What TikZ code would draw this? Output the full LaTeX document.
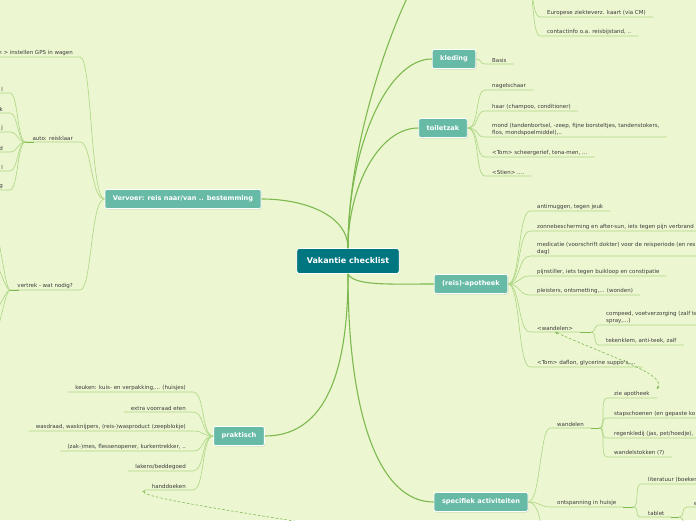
\documentclass[tikz,border=0pt]{standalone}
\usepackage{fontspec}
\setmainfont{DejaVu Sans}
\usetikzlibrary{arrows.meta,shadows}

\definecolor{bg}{RGB}{236,246,208}
\definecolor{rootfill}{RGB}{0,118,128}
\definecolor{topicfill}{RGB}{103,186,166}
\definecolor{mainline}{RGB}{125,185,80}
\definecolor{subline}{RGB}{172,214,132}
\definecolor{itemtext}{RGB}{60,60,60}

\tikzset{
  root/.style={rectangle, rounded corners=2.5pt, fill=rootfill, draw=white, line width=0.8pt,
    text=white, font=\fontsize{8}{9}\selectfont\bfseries, minimum height=25pt, inner xsep=10pt},
  topic/.style={rectangle, rounded corners=2pt, fill=topicfill, draw=white, line width=0.8pt,
    text=white, font=\fontsize{6.6}{8}\selectfont\bfseries, minimum height=19pt, inner xsep=8pt,
    drop shadow={shadow xshift=0.5pt, shadow yshift=-0.8pt, opacity=0.3, fill=black!60}},
  item/.style={font=\fontsize{5.5}{7}\selectfont, text=itemtext, inner xsep=7pt, inner ysep=1.6pt},
  itemr/.style={item, anchor=south west, align=left},
  iteml/.style={item, anchor=south east, align=right},
  main/.style={draw=mainline, line width=1.1pt},
  sub/.style={draw=subline, line width=0.6pt},
  stub/.style={draw=mainline, line width=1pt},
  relation/.style={draw=mainline, line width=0.6pt, dash pattern=on 2.5pt off 2pt,
    >={Stealth[length=3pt,width=3pt]}}
}

\begin{document}
\begin{tikzpicture}[x=1pt, y=-1pt]
    % Canvas
    \fill[bg] (0,0) rectangle (696,520);
    \useasboundingbox (0,0) rectangle (696,520);
    \clip (0,0) rectangle (696,520);

    % Centre and main topics
    \node[root] (root) at (348,261) {Vakantie checklist};
    \node[topic] (vervoer) at (183,199) {Vervoer: reis naar/van .. bestemming};
    \node[topic] (kleding) at (454,59) {kleding};
    \node[topic] (toiletzak) at (443,128) {toiletzak};
    \node[topic] (apotheek) at (471,284) {(reis)-apotheek};
    \node[topic] (praktisch) at (239,436) {praktisch};
    \node[topic] (specifiek) at (481,502) {specifiek activiteiten};
    \coordinate (boven) at (409,-6);

    % Main branches
    \draw[main] (vervoer.east) .. controls +(45,0) and +(0,-32) .. (root.north);
    \draw[main] (root.north) .. controls +(0,-100) and +(-22,45) .. (boven);
    \draw[main] (root.north) .. controls +(0,-100) and +(-45,0) .. (kleding.west);
    \draw[main] (root.north) .. controls +(0,-60) and +(-40,0) .. (toiletzak.west);
    \draw[main] (root.south) .. controls +(6,12) and +(-45,0) .. (apotheek.west);
    \draw[main] (root.south) .. controls +(0,110) and +(55,0) .. (praktisch.east);
    \draw[main] (root.south) .. controls +(0,140) and +(-55,0) .. (specifiek.west);

    % Branch above the picture
    \coordinate (verzek) at (528,-14);
    \node[itemr] (top1) at (540,17) {Europese ziekteverz. kaart (via CM)};
    \node[itemr] (top2) at (540,36) {contactinfo o.a. reisbijstand, ..};
    \foreach \n in {top1,top2}
        \draw[sub] (verzek) .. controls +(6,0) and +(-8,0) .. (\n.south west) -- (\n.south east);

    % kleding
    \node[itemr] (basis) at (485,64) {Basis};
    \draw[sub] (kleding.east) .. controls +(6,0) and +(-6,0) .. (basis.south west) -- (basis.south east);

    % toiletzak
    \foreach \y/\t [count=\i] in {90/nagelschaar, 111/{haar (champoo, conditioner)},
        137/{mond (tandenbortsel, -zeep, fijne borsteltjes, tandenstokers,\\flos, mondspoelmiddel),..},
        157/{<Tom> scheergerief, tena-men, ...}, 176/{<Stien> ....}}
    {
        \node[itemr] (tz\i) at (485,\y) {\t};
        \draw[sub] (toiletzak.east) .. controls +(12,0) and +(-10,0) .. (tz\i.south west) -- (tz\i.south east);
    }

    % (reis)-apotheek
    \foreach \y/\t [count=\i] in {211/{antimuggen, tegen jeuk},
        231/{zonnebescherming en after-sun, iets tegen pijn verbrand},
        256/{medicatie (voorschrift dokter) voor de reisperiode (en res\\dag)},
        276/{pijnstiller, iets tegen buikloop en constipatie},
        295/{pleisters, ontsmetting,... (wonden)}, 332/{<wandelen>},
        367/{<Tom> daflon, glycerine suppo's,...}}
    {
        \node[itemr] (ap\i) at (530,\y) {\t};
        \draw[sub] (apotheek.east) .. controls +(12,0) and +(-12,0) .. (ap\i.south west) -- (ap\i.south east);
    }
    \coordinate (wb) at (591,332);
    \draw[stub] (ap6.south east) -- (wb);
    \node[itemr] (wv1) at (599,325) {compeed, voetverzorging (zalf te\\spray,...)};
    \node[itemr] (wv2) at (599,345) {tekenklem, anti-teek, zalf};
    \foreach \n in {wv1,wv2}
        \draw[sub] (wb) .. controls +(6,0) and +(-6,0) .. (\n.south west) -- (\n.south east);

    % praktisch
    \foreach \y/\t [count=\i] in {392/{keuken: kuis- en verpakking,... (huisjes)},
        412/{extra voorraad eten}, 431/{wasdraad, wasknijpers, (reis-)wasproduct (zeepblokje)},
        451/{(zak-)mes, flessenopener, kurkentrekker, ..}, 471/{lakens/beddegoed}, 490/{handdoeken}}
    {
        \node[iteml] (pr\i) at (193,\y) {\t};
        \draw[sub] (praktisch.west) .. controls +(-12,0) and +(12,0) .. (pr\i.south east) -- (pr\i.south west);
    }

    % Vervoer
    \foreach \y/\t [count=\i] in {57/{n > instellen GPS in wagen}, 142/{auto: reisklaar}, 290/{vertrek - wat nodig?}}
    {
        \node[iteml] (vv\i) at (80,\y) {\t};
        \draw[sub] (vervoer.west) .. controls +(-14,0) and +(12,0) .. (vv\i.south east) -- (vv\i.south west);
    }
    \draw[stub] (vv2.south west) -- +(9,0);
    \foreach \y/\t [count=\i] in {93/l, 113/k, 132/j, 152/d, 171/l, 190/g}
    {
        \node[iteml] (au\i) at (10,\y) {\t};
        \draw[sub] (vv2.south west) .. controls +(-8,0) and +(8,0) .. (au\i.south east) -- (au\i.south west);
    }
    \draw[stub] (vv3.south west) -- +(9,0);
    \coordinate (vt1) at (-8,226);
    \coordinate (vt2) at (-8,262);
    \coordinate (vt3) at (-8,312);
    \coordinate (vt4) at (-8,336);
    \foreach \n in {vt1,vt2,vt3,vt4}
        \draw[sub] (vv3.south west) .. controls +(-6,0) and +(8,0) .. (\n);

    % specifiek activiteiten
    \node[itemr] (sp1) at (550,428) {wandelen};
    \node[itemr] (sp2) at (550,507) {ontspanning in huisje};
    \coordinate (sp3) at (541,530);
    \foreach \n in {sp1,sp2}
        \draw[sub] (specifiek.east) .. controls +(12,0) and +(-10,0) .. (\n.south west) -- (\n.south east);
    \draw[sub] (specifiek.east) .. controls +(8,0) and +(0,-12) .. (sp3);

    \coordinate (wd) at (599,428);
    \draw[stub] (sp1.south east) -- (wd);
    \foreach \y/\t [count=\i] in {398/{zie apotheek}, 418/{stapschoenen (en gepaste ko},
        438/{regenkledij (jas, pet/hoedje),}, 457/{wandelstokken (?)}}
    {
        \node[itemr] (wz\i) at (607,\y) {\t};
        \draw[sub] (wd) .. controls +(8,0) and +(-8,0) .. (wz\i.south west) -- (wz\i.south east);
    }

    \coordinate (os) at (633,507);
    \draw[stub] (sp2.south east) -- (os);
    \node[itemr] (os1) at (641,484) {literatuur (boeken};
    \node[itemr] (os2) at (641,517) {tablet};
    \foreach \n in {os1,os2}
        \draw[sub] (os) .. controls +(7,0) and +(-7,0) .. (\n.south west) -- (\n.south east);
    \coordinate (tb) at (679,517);
    \draw[stub] (os2.south east) -- (tb);
    \node[itemr] (tb1) at (687,507) {e};
    \coordinate (tb2) at (690,530);
    \draw[sub] (tb) .. controls +(6,0) and +(-6,0) .. (tb1.south west) -- (tb1.south east);
    \draw[sub] (tb) .. controls +(6,0) and +(-6,0) .. (tb2);

    % Relations
    \draw[relation, <->] (ap6.south) .. controls +(55,25) and +(10,-15) .. (wz1.north east);
    \coordinate (dashend) at (330,527);
    \draw[relation, <-] (pr6.south west) .. controls +(-4,8) and +(-70,-12) .. (dashend);
\end{tikzpicture}
\end{document}
